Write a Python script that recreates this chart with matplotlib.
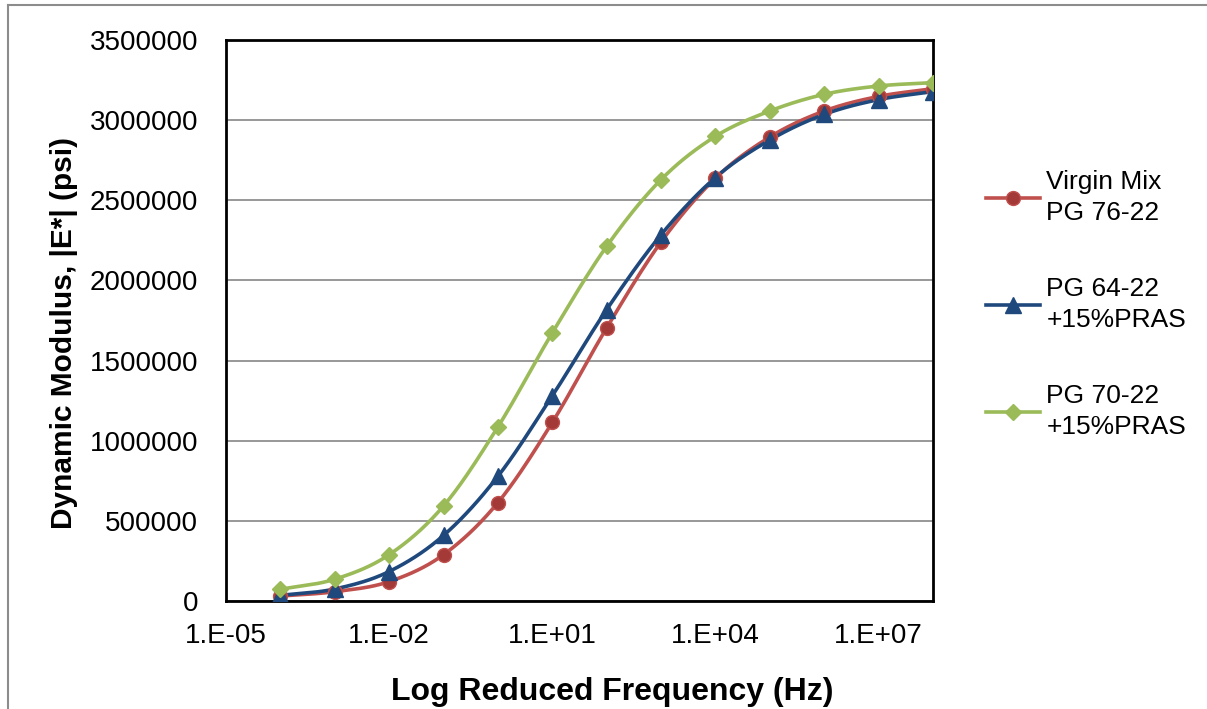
import matplotlib
matplotlib.use("Agg")
import matplotlib.pyplot as plt
import numpy as np

plt.rcParams['font.family'] = ['Liberation Sans', 'DejaVu Sans']

freq = [1e-4, 1e-3, 1e-2, 1e-1, 1e0, 1e1, 1e2, 1e3, 1e4, 1e5, 1e6, 1e7, 1e8]
virgin = [31000, 58000, 121000, 289000, 614000, 1114000, 1704000, 2240000,
          2638000, 2895000, 3057000, 3148000, 3196000]
pg64 = [35000, 75000, 184000, 409000, 778000, 1280000, 1818000, 2285000,
        2642000, 2876000, 3036000, 3128000, 3178000]
pg70 = [73000, 136000, 289000, 593000, 1086000, 1673000, 2213000, 2629000,
        2899000, 3057000, 3161000, 3213000, 3234000]

labels = ["Virgin Mix\nPG 76-22", "PG 64-22\n+15%PRAS", "PG 70-22\n+15%PRAS"]
xticks = [1e-5, 1e-2, 1e1, 1e4, 1e7]
xticklabels = ["1.E-05", "1.E-02", "1.E+01", "1.E+04", "1.E+07"]


def smooth(x, y, n=20):
    # excel-like smoothed line (catmull-rom through the points, in log-x)
    lx = np.log10(x)
    y = np.asarray(y, float)
    px = np.concatenate([[2 * lx[0] - lx[1]], lx, [2 * lx[-1] - lx[-2]]])
    py = np.concatenate([[2 * y[0] - y[1]], y, [2 * y[-1] - y[-2]]])
    t = np.linspace(0, 1, n)[:-1]
    ox, oy = [], []
    for i in range(1, len(px) - 2):
        for p, o in ((px, ox), (py, oy)):
            p0, p1, p2, p3 = p[i - 1], p[i], p[i + 1], p[i + 2]
            o.extend(0.5 * (2 * p1 + (-p0 + p2) * t
                            + (2 * p0 - 5 * p1 + 4 * p2 - p3) * t ** 2
                            + (-p0 + 3 * p1 - 3 * p2 + p3) * t ** 3))
    ox.append(lx[-1])
    oy.append(y[-1])
    return 10 ** np.array(ox), np.array(oy)


fig = plt.figure(figsize=(12.07, 7.09), dpi=100)
ax = fig.add_axes([0.1872, 0.1523, 0.5858, 0.7913])

series = [
    (virgin, "#C0504D", "o", "#A33A38", "#C0504D", 10),
    (pg64, "#1F497D", "^", "#1F497D", "#1F497D", 11),
    (pg70, "#9BBB59", "D", "#9BBB59", "#9BBB59", 8.5),
]
handles = []
for (vals, col, mk, fc, ec, ms), lab in zip(series, labels):
    sx, sy = smooth(freq, vals)
    ax.plot(sx, sy, color=col, lw=2.6, zorder=3)
    ax.plot(freq, vals, ls="none", marker=mk, ms=ms, mfc=fc, mec=ec,
            mew=1, zorder=4)
    h, = ax.plot([], [], color=col, lw=2.6, marker=mk, ms=ms, mfc=fc,
                 mec=ec, label=lab)
    handles.append(h)

ax.set_xscale("log")
ax.set_xlim(1e-5, 1e8)
ax.set_ylim(0, 3500000)
ax.set_yticks(np.arange(0, 3500001, 500000))
ax.yaxis.set_major_formatter(matplotlib.ticker.FuncFormatter(
    lambda v, p: "%d" % v))
ax.set_xticks(xticks)
ax.set_xticklabels(xticklabels)
ax.xaxis.set_minor_locator(matplotlib.ticker.NullLocator())
ax.tick_params(axis="both", length=0, labelsize=20)
ax.tick_params(axis="y", pad=20)
ax.tick_params(axis="x", pad=16)
ax.yaxis.grid(True, color="#868686", lw=1.2)
ax.set_axisbelow(True)
for s in ax.spines.values():
    s.set_color("black")
    s.set_linewidth(2)

ax.set_xlabel("Log Reduced Frequency (Hz)", fontsize=23, fontweight="bold")
ax.xaxis.set_label_coords(0.546, -0.135)
ax.set_ylabel("Dynamic Modulus, |E*| (psi)", fontsize=21.5, fontweight="bold")
ax.yaxis.set_label_coords(-0.209, 0.478)

leg = fig.legend(handles=handles, loc="center left",
                 bbox_to_anchor=(0.817, 0.5705), frameon=False, fontsize=19,
                 labelspacing=1.95, handlelength=2.05, handletextpad=0.23,
                 borderpad=0, borderaxespad=0)
for t in leg.get_texts():
    t.set_linespacing(1.4)

# outer chart border (top and left visible)
fig.add_artist(plt.Line2D([8 / 1207, 1], [1 - 5 / 709, 1 - 5 / 709],
                          color="#8C8C8C", lw=1.5))
fig.add_artist(plt.Line2D([8 / 1207, 8 / 1207], [0, 1 - 5 / 709],
                          color="#8C8C8C", lw=1.5))

fig.savefig("out.png", dpi=100)
